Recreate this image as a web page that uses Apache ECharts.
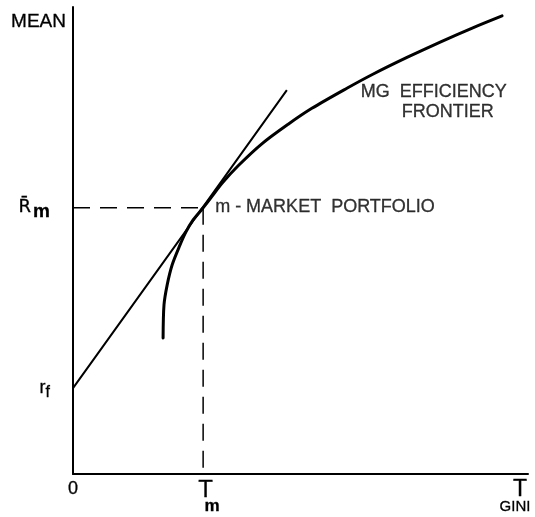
<!DOCTYPE html>
<html>
<head>
<meta charset="utf-8">
<script src="https://cdn.jsdelivr.net/npm/echarts@6/dist/echarts.min.js"></script>
<style>
html,body{margin:0;padding:0;background:#fff;}
#c{width:535px;height:517px;}
</style>
</head>
<body>
<div id="c"></div>
<script>
// ---- data (arbitrary units: 0..100 on both axes) ----
const RF = 18.4;          // risk-free rate (intercept)
const TM = 28.6;          // Gini of market portfolio
const RM = 57.0;          // mean of market portfolio
const tangentX = [0, 28.6, 47.0];
const tangentY = [18.4, 57.2, 82.2];
const frontierX = [19.8, 20.0, 20.7, 21.8, 23.5, 24.8, 26.4, 28.6, 30.5, 32.7, 36.3, 41.5, 47.3, 52.5, 60.2, 65.9, 73.4, 80.7, 88.0, 94.3];
const frontierY = [29.1, 36.2, 40.5, 44.8, 49.0, 51.8, 54.4, 57.0, 59.4, 62.2, 66.0, 70.7, 74.9, 78.3, 82.6, 85.6, 89.2, 92.5, 95.6, 98.1];
const xTickValues = [0, TM, 100];
const xTickLabels = ['{z|0}', '{t|T}\n{sm|m}', '{tg|T}\n{g|GINI}'];
const yTickValues = [RF, RM];
const yTickLabels = ['{r|r}{f|f}', '{R|R\u0304}{bm|m}'];
const marketLabel = 'm - MARKET  PORTFOLIO';
const frontierLabel = 'MG  EFFICIENCY\n{ind|FRONTIER}';
const labelAnchorIndex = 15; // frontier point the frontier label hangs from

const FONT = 'Liberation Sans';
const INK = {color: '#000', textBorderColor: '#000', textBorderWidth: 0.3, fontFamily: FONT};
const pick = (vals, labels, v) => {
  for (let i = 0; i < vals.length; i++) if (Math.abs(vals[i] - v) < 1e-6) return labels[i];
  return '';
};

const chart = echarts.init(document.getElementById('c'), null, {renderer: 'canvas'});
const axisLine = {show: true, onZero: false, lineStyle: {color: '#000', width: 2}};
chart.setOption({
  animation: false,
  backgroundColor: '#fff',
  textStyle: {fontFamily: FONT, color: '#000'},
  grid: {left: 73, right: 7, top: 7, bottom: 43, containLabel: false, outerBoundsMode: 'none'},
  xAxis: {
    type: 'value', min: 0, max: 100,
    axisLine: axisLine, axisTick: {show: false}, splitLine: {show: false},
    axisLabel: {
      customValues: xTickValues, margin: 6, color: '#000', fontFamily: FONT, hideOverlap: false,
      formatter: v => pick(xTickValues, xTickLabels, v),
      rich: {
        z: Object.assign({fontSize: 18}, INK),
        t: Object.assign({fontSize: 24, lineHeight: 20, padding: [0, 0, 0, 5]}, INK),
        sm: Object.assign({fontSize: 17, fontWeight: 'bold', lineHeight: 13, padding: [0, 0, 0, 18]}, INK),
        tg: Object.assign({fontSize: 23, lineHeight: 20, padding: [0, 16, 0, 0]}, INK),
        g: Object.assign({fontSize: 15, lineHeight: 14, padding: [0, 26, 0, 0]}, INK)
      }
    }
  },
  yAxis: {
    type: 'value', min: 0, max: 100,
    name: 'MEAN', nameLocation: 'end', nameGap: -15,
    nameTextStyle: Object.assign({fontSize: 19, align: 'right', verticalAlign: 'middle', padding: [0, 7, 0, 0]}, INK),
    axisLine: axisLine, axisTick: {show: false}, splitLine: {show: false},
    axisLabel: {
      customValues: yTickValues, margin: 23, color: '#000', fontFamily: FONT,
      formatter: v => pick(yTickValues, yTickLabels, v),
      rich: {
        r: Object.assign({fontSize: 18}, INK),
        f: Object.assign({fontSize: 16, padding: [10, 0, 0, 0]}, INK),
        R: Object.assign({fontSize: 18}, INK, {fontFamily: 'DejaVu Sans'}),
        bm: Object.assign({fontSize: 19, fontWeight: 'bold', padding: [7, 0, 0, 2]}, INK)
      }
    }
  },
  series: [
    {
      name: 'guides-h', type: 'line', silent: true, symbol: 'none',
      data: [[0, RM], [TM, RM]],
      lineStyle: {color: '#000', width: 1.5, type: [17, 10]}
    },
    {
      name: 'guides-v', type: 'line', silent: true, symbol: 'none',
      data: [[TM, RM], [TM, 0]],
      lineStyle: {color: '#000', width: 1.5, type: [17, 10]}
    },
    {
      name: 'tangent', type: 'line', silent: true, symbol: 'none',
      data: tangentX.map((x, i) => [x, tangentY[i]]),
      lineStyle: {color: '#000', width: 2}
    },
    {
      name: 'frontier', type: 'line', silent: true, symbol: 'none', smooth: 0.3,
      data: frontierX.map((x, i) => [x, frontierY[i]]),
      lineStyle: {color: '#000', width: 3, cap: 'round'}
    },
    {
      name: 'labels', type: 'scatter', silent: true, symbolSize: 0,
      data: [
        {value: [TM, RM], label: Object.assign({show: true, position: [12, -10], formatter: marketLabel,
          fontSize: 18}, INK)},
        {value: [frontierX[labelAnchorIndex], frontierY[labelAnchorIndex]],
          label: Object.assign({show: true, position: [-12, 8], formatter: frontierLabel,
          fontSize: 18, lineHeight: 20,
          rich: {ind: Object.assign({fontSize: 18, padding: [0, 0, 0, 41]}, INK)}}, INK)}
      ]
    }
  ]
});
</script>
</body>
</html>
